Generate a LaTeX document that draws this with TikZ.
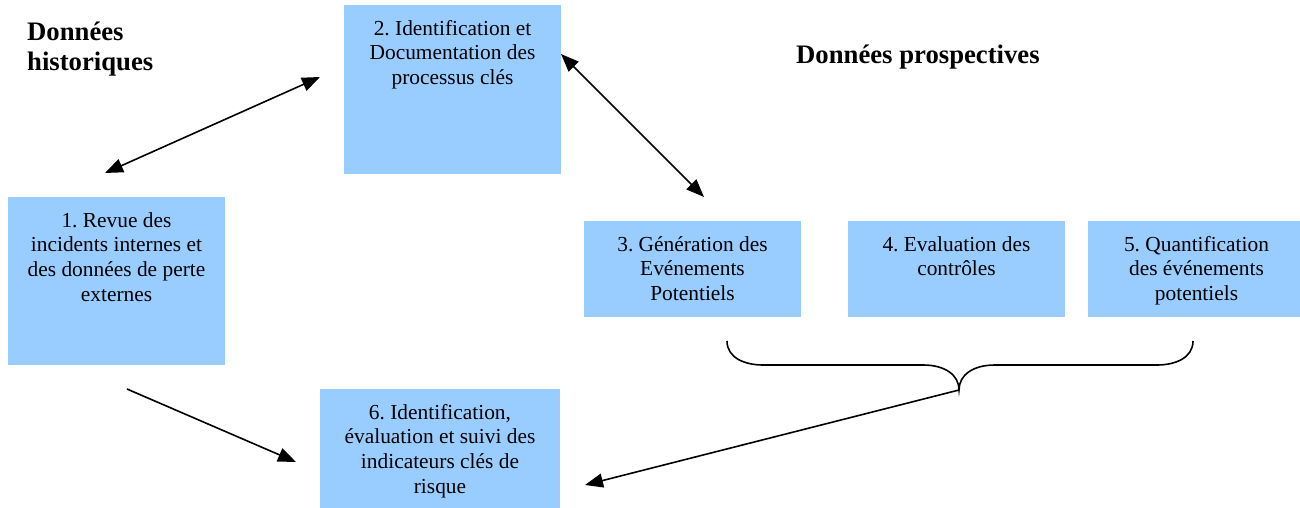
\documentclass[tikz,border=0pt]{standalone}
\usepackage{fontspec}
\setmainfont{Liberation Serif}
\usetikzlibrary{arrows.meta,calc}
\definecolor{boxblue}{RGB}{153,204,255}
\tikzset{
  boxshape/.style={fill=boxblue, draw=none, inner sep=0pt, outer sep=0pt},
  boxtext/.style={anchor=north, align=center, inner sep=0pt, font=\fontsize{21.4}{24.7}\selectfont},
  headtext/.style={inner sep=0pt, font=\fontsize{26.7}{30.7}\selectfont\bfseries},
  conn/.style={line width=1.6pt, -{Triangle[length=18pt,width=14pt]}},
  dconn/.style={line width=1.6pt, {Triangle[length=18pt,width=14pt]}-{Triangle[length=18pt,width=14pt]}},
  bracestyle/.style={line width=1.6pt},
}
\newcommand{\firststrut}{\rule{0pt}{16pt}}
\frenchspacing
\begin{document}
\begin{tikzpicture}[x=1pt,y=-1pt]
\useasboundingbox (0,0) rectangle (1300,508);
\clip (0,0) rectangle (1300,508);

% boxes
\node[boxshape, minimum width=217pt, minimum height=168pt] (b1) at (116.5,281) {};
\node[boxshape, minimum width=217pt, minimum height=169pt] (b2) at (452.5,89.5) {};
\node[boxshape, minimum width=217pt, minimum height=96pt] (b3) at (692.5,269) {};
\node[boxshape, minimum width=217pt, minimum height=96pt] (b4) at (956.5,269) {};
\node[boxshape, minimum width=217pt, minimum height=96pt] (b5) at (1196.5,269) {};
\node[boxshape, minimum width=240pt, minimum height=125pt] (b6) at (440,451.5) {};

% box texts
\node[boxtext] (t1) at (116.5,211) {\firststrut 1. Revue des\\incidents internes et\\des données de perte\\externes};
\node[boxtext] (t2) at (452.5,19) {\firststrut 2. Identification et\\Documentation des\\processus clés};
\node[boxtext] (t3) at (692.5,235) {\firststrut 3. Génération des\\Evénements\\Potentiels};
\node[boxtext] (t4) at (956.5,235) {\firststrut 4. Evaluation des\\contrôles};
\node[boxtext] (t5) at (1196.5,235) {\firststrut 5. Quantification\\des événements\\potentiels};
\node[boxtext] (t6) at (440,403) {\firststrut 6. Identification,\\évaluation et suivi des\\indicateurs clés de\\risque};

% headings
\node[headtext, anchor=north west, align=left] (hist) at (27,20) {\rule{0pt}{20pt}Données\\historiques};
\node[headtext, anchor=base west] (prosp) at (796,64) {Données prospectives};

% arrow end points
\coordinate (a1s) at (105,173);
\coordinate (a1e) at (320,77);
\coordinate (a2s) at (561,54);
\coordinate (a2e) at (704,197);
\coordinate (a3s) at (127,389);
\coordinate (a3e) at (296,462);
\coordinate (bl) at (727,341);
\coordinate (br) at (1193,341);
\coordinate (btip) at (959,390);
\coordinate (a4e) at (585,485);

% connectors
\draw[dconn] (a1s) -- (a1e);
\draw[dconn] (a2s) -- (a2e);
\draw[conn] (a3s) -- (a3e);

% brace
\draw[bracestyle] (bl) .. controls (727,358) and (745,365) .. (763,365)
  -- (923,365) .. controls (945,365) and (959,375) .. (btip)
  .. controls (959,375) and (973,365) .. (995,365)
  -- (1157,365) .. controls (1175,365) and (1193,358) .. (br);

\draw[conn] (btip) -- (a4e);
\end{tikzpicture}
\end{document}
